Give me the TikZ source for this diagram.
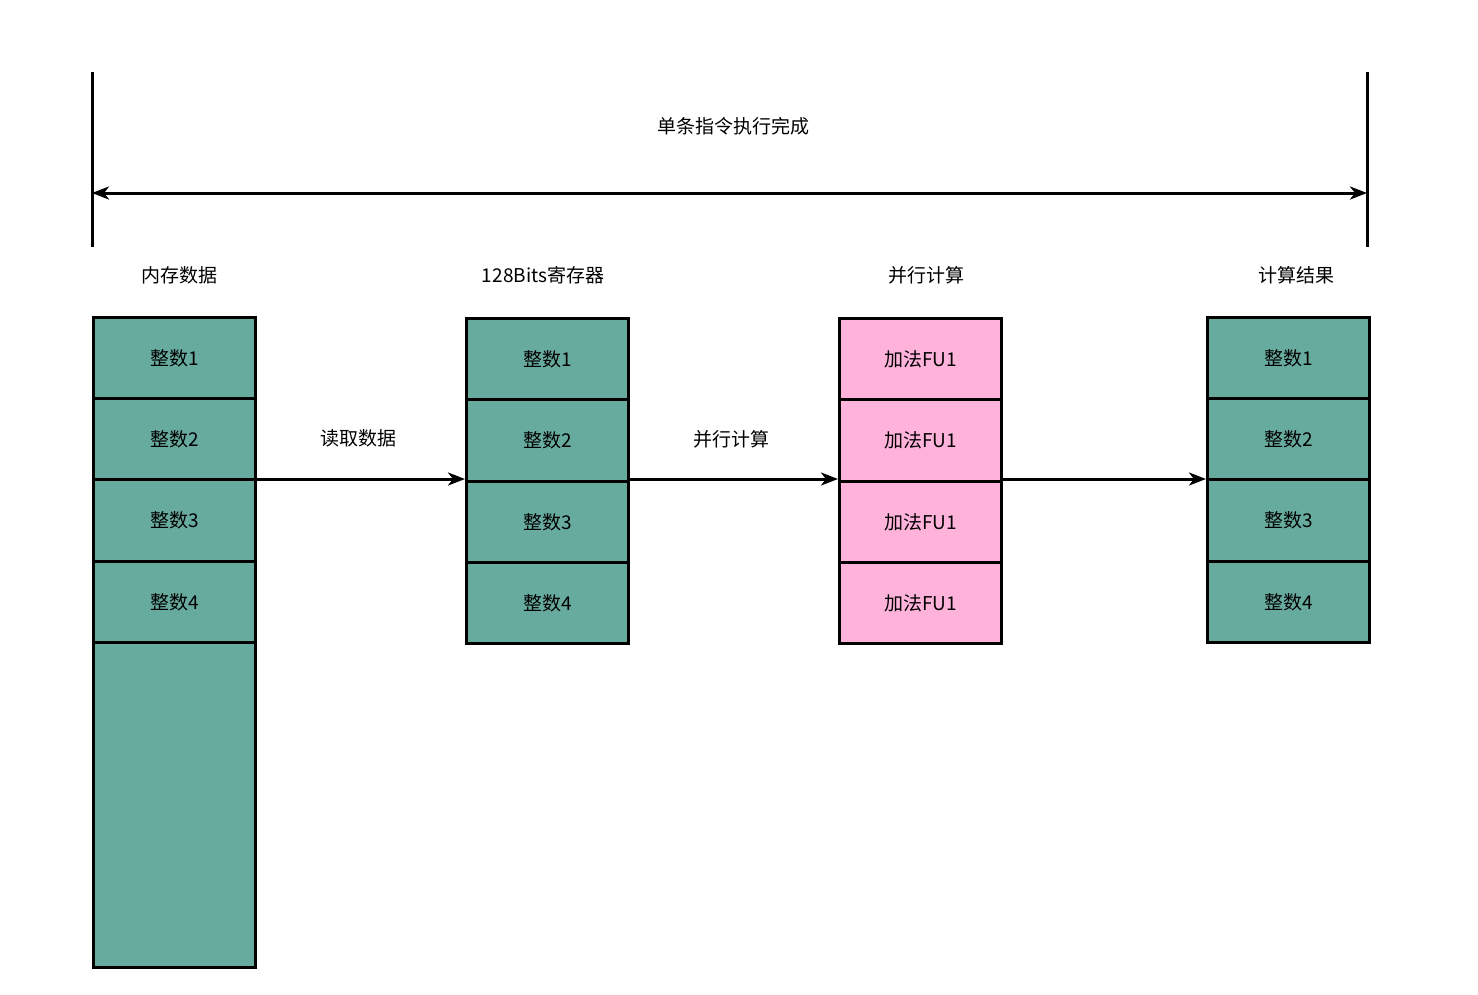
\documentclass[tikz,border=0pt]{standalone}
\usepackage{fontspec}
\setmainfont{Noto Sans CJK SC}
\usetikzlibrary{arrows.meta,calc}
\definecolor{teal1}{HTML}{67AB9F}
\definecolor{pink1}{HTML}{FFB3DB}
\begin{document}
\begin{tikzpicture}[x=1pt,y=-1pt,
  cell/.style={draw=black,line width=3pt,minimum width=162pt,inner sep=0pt,anchor=north west,font=\fontsize{19}{22}\selectfont},
  tcell/.style={cell,fill=teal1},
  pcell/.style={cell,fill=pink1},
  lbl/.style={font=\fontsize{19}{22}\selectfont,inner sep=0pt},
  tip/.tip={Stealth[length=17pt,width=13pt,inset=5pt]},
  conn/.style={line width=3pt,-tip},
  vline/.style={line width=3pt}]
\useasboundingbox (0,0) rectangle (1478,994);
% top span
\coordinate (L1) at (92,72); \coordinate (L2) at (92,247);
\coordinate (R1) at (1367,72); \coordinate (R2) at (1367,247);
\draw[vline] (L1) -- (L2);
\draw[vline] (R1) -- (R2);
\coordinate (AL) at (92,193); \coordinate (AR) at (1367,193);
\draw[line width=3pt,tip-tip] (AL) -- (AR);
\node[lbl] (span) at (733,126) {单条指令执行完成};
% headers
\node[lbl] (h1) at (179,275) {内存数据};
\node[lbl] (h2) at (543,275) {128Bits寄存器};
\node[lbl] (h3) at (926,275) {并行计算};
\node[lbl] (h4) at (1296,275) {计算结果};
% memory column
\node[tcell,minimum height=81pt] (m1) at (92,316) {整数1};
\node[tcell,minimum height=81pt] (m2) at (92,397) {整数2};
\node[tcell,minimum height=82pt] (m3) at (92,478) {整数3};
\node[tcell,minimum height=81pt] (m4) at (92,560) {整数4};
\node[tcell,minimum height=325pt] (m5) at (92,641) {};
% register
\node[tcell,minimum height=81pt] (r1) at (465,317) {整数1};
\node[tcell,minimum height=82pt] (r2) at (465,398) {整数2};
\node[tcell,minimum height=81pt] (r3) at (465,480) {整数3};
\node[tcell,minimum height=81pt] (r4) at (465,561) {整数4};
% parallel
\node[pcell,minimum height=81pt] (p1) at (838,317) {加法FU1};
\node[pcell,minimum height=82pt] (p2) at (838,398) {加法FU1};
\node[pcell,minimum height=81pt] (p3) at (838,480) {加法FU1};
\node[pcell,minimum height=81pt] (p4) at (838,561) {加法FU1};
% result
\node[tcell,minimum height=81pt] (s1) at (1206,316) {整数1};
\node[tcell,minimum height=81pt] (s2) at (1206,397) {整数2};
\node[tcell,minimum height=82pt] (s3) at (1206,478) {整数3};
\node[tcell,minimum height=81pt] (s4) at (1206,560) {整数4};
% connectors
\draw[conn] ($(m3.north east)+(0,1)$) -- ($(m3.north east -| r3.west)+(0,1)$);
\draw[conn] ($(r3.north east)+(0,-1)$) -- ($(p3.north west)+(0,-1)$);
\draw[conn] ($(p3.north east)+(0,-1)$) -- ($(p3.north east -| s3.west)+(0,-1)$);
\node[lbl] (c1) at (358,438) {读取数据};
\node[lbl] (c2) at (731,439) {并行计算};
\end{tikzpicture}
\end{document}
